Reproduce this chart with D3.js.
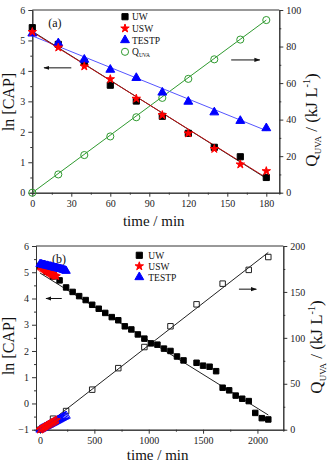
<!DOCTYPE html>
<html>
<head>
<meta charset="utf-8">
<script src="https://cdn.jsdelivr.net/npm/d3@7/dist/d3.min.js"></script>
<style>
  body { margin: 0; background: #fff; }
  .axis path, .axis line { stroke: #333; }
</style>
</head>
<body>
<div id="chart"></div>
<script>
// ---------------- panel (a) data ----------------
var timeA = [0, 20, 40, 60, 80, 100, 120, 140, 160, 180]
var uwA = [5.42, 4.87, 4.28, 3.53, 3.01, 2.51, 1.95, 1.49, 1.18, 0.50]
var uswA = [5.28, 4.77, 4.15, 3.73, 3.09, 2.55, 1.95, 1.44, 0.93, 0.71]
var testpA = [5.23, 4.91, 4.37, 4.04, 3.77, 3.29, 2.99, 2.64, 2.36, 2.12]
var quvaA = [0, 10.0, 20.6, 30.8, 41.3, 51.9, 62.3, 73.0, 83.8, 94.5]
// fitted lines (end points)
var uwFitA = [[0, 5.30], [180, 0.47]]
var uswFitA = [[0, 5.28], [180, 0.49]]
var testpFitA = [[0, 5.15], [180, 2.04]]
var quvaFitA = [[0, 0], [180, 94.5]]

// ---------------- panel (b) data ----------------
var timeUwB = [0, 60, 120, 180, 240, 300, 360, 420, 480, 540, 600, 660, 720, 780, 840, 900,
  960, 1020, 1080, 1140, 1200, 1260, 1320, 1440, 1500, 1560, 1620, 1680, 1740, 1800,
  1860, 1920, 1980, 2040, 2100]
var uwB = [5.24, 5.02, 4.84, 4.69, 4.42, 4.25, 4.09, 3.94, 3.76, 3.61, 3.45, 3.29, 3.17, 2.94,
  2.82, 2.63, 2.47, 2.29, 2.24, 2.09, 2.00, 1.79, 1.64, 1.55, 1.44, 1.40, 1.23, 0.60,
  0.50, 0.30, 0.18, 0.09, -0.36, -0.56, -0.61]
var timeQuvaB = [0, 120, 240, 480, 720, 960, 1200, 1440, 1680, 1920, 2100]
var quvaB = [0, 12.0, 20.3, 43.6, 67.0, 90.0, 112.6, 136.5, 159.0, 174.0, 188.0]
var timeUswB = [0, 10, 20, 30, 40, 50, 60, 70, 80, 90, 100, 110, 120, 130, 140, 150]
var uswB = [5.22, 5.20, 5.16, 5.14, 5.10, 5.08, 5.05, 5.03, 4.99, 4.98, 4.95, 4.92, 4.91, 4.88, 4.87, 4.85]
var quvaUswB = [0, 0.7, 1.5, 2.1, 2.9, 3.6, 4.2, 5.0, 5.7, 6.3, 7.1, 7.8, 8.4, 9.2, 9.9, 10.6]
var timeTestpB = [0, 10, 20, 30, 40, 50, 60, 70, 80, 90, 100, 110, 120, 130, 140, 150, 160,
  170, 180, 190, 200, 210, 220, 230, 240]
var testpB = [5.31, 5.31, 5.29, 5.28, 5.28, 5.26, 5.25, 5.25, 5.23, 5.22, 5.22, 5.20, 5.19,
  5.18, 5.17, 5.17, 5.15, 5.14, 5.13, 5.12, 5.11, 5.10, 5.08, 5.07, 5.05]
var quvaTestpB = [0, 0.6, 1.3, 1.9, 2.5, 3.2, 3.8, 4.4, 5.1, 5.6, 6.3, 7.0, 7.5, 8.2, 8.8,
  9.5, 10.1, 10.7, 11.4, 12.0, 12.6, 13.3, 13.9, 14.5, 15.1]
var uwFitB = [[0, 4.97], [2100, -0.44]]
var quvaFitB = [[0, 0], [2100, 193]]

var legendA = ["UW", "USW", "TESTP", "Q"]
var legendB = ["UW", "USW", "TESTP"]

var red = "#ff0000", blue = "#0000ff", green = "#2f9a2f"
var serif = "'Times New Roman', 'Liberation Serif', serif"

var svg = d3.select("#chart").append("svg")
  .attr("width", 328)
  .attr("height", 464)
  .attr("font-family", serif)

function zip(xs, ys) { return xs.map(function(x, i) { return [x, ys[i]] }) }

function styleAxis(g) {
  g.attr("font-family", serif).attr("font-size", 10)
  g.selectAll("text").attr("fill", "#222")
}

// draws one panel frame with both y axes, returns the scales
function makePanel(p) {
  var x = d3.scaleLinear().domain(p.xdom).range([p.left, p.right])
  var y = d3.scaleLinear().domain(p.ydom).range([p.bottom, p.top])
  var y2 = d3.scaleLinear().domain(p.y2dom).range([p.bottom, p.top])
  var f = d3.format("d")

  // minor ticks
  svg.append("g").attr("class", "axis")
    .attr("transform", "translate(0," + p.bottom + ")")
    .call(d3.axisBottom(x).tickValues(p.xminor).tickSize(2).tickFormat(""))
  svg.append("g").attr("class", "axis")
    .attr("transform", "translate(" + p.left + ",0)")
    .call(d3.axisLeft(y).tickValues(p.yminor).tickSize(2).tickFormat(""))
  svg.append("g").attr("class", "axis")
    .attr("transform", "translate(" + p.right + ",0)")
    .call(d3.axisRight(y2).tickValues(p.y2minor).tickSize(2).tickFormat(""))

  // major ticks
  svg.append("g").attr("class", "axis")
    .attr("transform", "translate(0," + p.bottom + ")")
    .call(d3.axisBottom(x).tickValues(p.xticks).tickFormat(f).tickSize(4).tickSizeOuter(0).tickPadding(3))
    .call(styleAxis)
  svg.append("g").attr("class", "axis")
    .attr("transform", "translate(" + p.left + ",0)")
    .call(d3.axisLeft(y).tickValues(p.yticks).tickFormat(f).tickSize(4).tickSizeOuter(0).tickPadding(3))
    .call(styleAxis)
  svg.append("g").attr("class", "axis")
    .attr("transform", "translate(" + p.right + ",0)")
    .call(d3.axisRight(y2).tickValues(p.y2ticks).tickFormat(f).tickSize(4).tickSizeOuter(0).tickPadding(3))
    .call(styleAxis)

  // top border
  svg.append("line")
    .attr("x1", p.left).attr("x2", p.right)
    .attr("y1", p.top).attr("y2", p.top)
    .style("stroke", "#333")

  // axis titles
  svg.append("text")
    .attr("text-anchor", "middle")
    .attr("x", (p.left + p.right) / 2 - 2)
    .attr("y", p.bottom + p.titleGap)
    .attr("font-size", 15)
    .attr("fill", "#111")
    .text("time / min")
  svg.append("text")
    .attr("text-anchor", "middle")
    .attr("transform", "translate(14," + p.leftMid + ")rotate(-90)")
    .attr("font-size", 16)
    .attr("fill", "#111")
    .text("ln [CAP]")
  var q = svg.append("text")
    .attr("text-anchor", "middle")
    .attr("transform", "translate(" + (p.right + p.rightGap) + "," + p.rightMid + ")rotate(-90)")
    .attr("font-size", 17)
    .attr("fill", "#111")
  q.append("tspan").text("Q")
  q.append("tspan").attr("dy", 4).attr("font-size", 9).text("UVA")
  q.append("tspan").attr("dy", -4).text(" / (kJ L")
  q.append("tspan").attr("dy", -7).attr("font-size", 10).text("-1")
  q.append("tspan").attr("dy", 7).text(")")

  svg.append("text")
    .attr("x", p.left + 16).attr("y", p.top + 17)
    .attr("font-size", 12)
    .attr("fill", "#111")
    .text(p.tag)

  return { x: x, y: y, y2: y2 }
}

var line = d3.line()

function drawLine(pts, sx, sy, color, w) {
  svg.append("path")
    .attr("d", line(pts.map(function(d) { return [sx(d[0]), sy(d[1])] })))
    .style("fill", "none")
    .style("stroke", color)
    .style("stroke-width", w || 1)
}

function drawMarks(pts, sx, sy, type, size, fill, stroke) {
  svg.append("g").selectAll("path")
    .data(pts)
    .enter().append("path")
    .attr("transform", function(d) { return "translate(" + sx(d[0]) + "," + sy(d[1]) + ")" })
    .attr("d", d3.symbol().type(type).size(size))
    .style("fill", fill)
    .style("stroke", stroke)
    .style("stroke-width", 1)
}

function arrow(x1, y1, x2, y2) {
  svg.append("line")
    .attr("x1", x1).attr("y1", y1).attr("x2", x2).attr("y2", y2)
    .style("stroke", "#111").style("stroke-width", 1)
    .attr("marker-end", "url(#head)")
}

svg.append("defs").append("marker")
  .attr("id", "head")
  .attr("viewBox", "0 0 10 10")
  .attr("refX", 9).attr("refY", 5)
  .attr("markerWidth", 6).attr("markerHeight", 6)
  .attr("orient", "auto")
  .append("path").attr("d", "M0,1.5L10,5L0,8.5Z").style("fill", "#111")

// -----------------------------------------------------------------------------
// Panel (a)
var A = makePanel({
  left: 32.3, right: 279.3, top: 10, bottom: 192.7, titleGap: 33,
  leftMid: 102, rightMid: 120, rightGap: 38,
  xdom: [0, 190], ydom: [0, 6], y2dom: [0, 100],
  xticks: [0, 30, 60, 90, 120, 150, 180], xminor: [15, 45, 75, 105, 135, 165],
  yticks: [0, 1, 2, 3, 4, 5, 6], yminor: [0.5, 1.5, 2.5, 3.5, 4.5, 5.5],
  y2ticks: [0, 20, 40, 60, 80, 100], y2minor: [10, 30, 50, 70, 90],
  tag: "(a)"
})

drawLine(quvaFitA, A.x, A.y2, green)
drawLine(testpFitA, A.x, A.y, "#5555ff")
drawLine(uwFitA, A.x, A.y, "#222")
drawLine(uswFitA, A.x, A.y, "#c01010")

drawMarks(zip(timeA, quvaA), A.x, A.y2, d3.symbolCircle, 40, "none", green)
drawMarks(zip(timeA, uwA), A.x, A.y, d3.symbolSquare, 38, "#000", "#000")
drawMarks(zip(timeA, testpA), A.x, A.y, d3.symbolTriangle, 34, blue, blue)
drawMarks(zip(timeA, uswA), A.x, A.y, d3.symbolStar, 22, red, red)

arrow(A.x(30), A.y(4.1), A.x(9), A.y(4.1))
arrow(A.x(153), A.y(4.36), A.x(175), A.y(4.36))

// legend (a)
var legA = [
  { type: d3.symbolSquare, size: 38, fill: "#000", stroke: "#000" },
  { type: d3.symbolStar, size: 22, fill: red, stroke: red },
  { type: d3.symbolTriangle, size: 34, fill: blue, stroke: blue },
  { type: d3.symbolCircle, size: 40, fill: "none", stroke: green }
]
legendA.forEach(function(name, i) {
  var yy = 16.7 + i * 11.7
  svg.append("path")
    .attr("transform", "translate(125," + yy + ")")
    .attr("d", d3.symbol().type(legA[i].type).size(legA[i].size))
    .style("fill", legA[i].fill).style("stroke", legA[i].stroke)
  var t = svg.append("text").attr("x", 132).attr("y", yy + 3.5).attr("font-size", 9.5).attr("fill", "#111")
  t.append("tspan").text(name)
  if (name == "Q") t.append("tspan").attr("dy", 2).attr("font-size", 5.5).text("UVA")
})

// -----------------------------------------------------------------------------
// Panel (b)
var B = makePanel({
  left: 36, right: 283.3, top: 246, bottom: 429.7, titleGap: 30,
  leftMid: 346, rightMid: 347, rightGap: 39,
  xdom: [-37, 2238], ydom: [-1, 6], y2dom: [0, 200],
  xticks: [0, 500, 1000, 1500, 2000], xminor: [250, 750, 1250, 1750],
  yticks: [-1, 0, 1, 2, 3, 4, 5, 6], yminor: [-0.5, 0.5, 1.5, 2.5, 3.5, 4.5, 5.5],
  y2ticks: [0, 50, 100, 150, 200], y2minor: [25, 75, 125, 175],
  tag: "(b)"
})

drawLine(quvaFitB, B.x, B.y2, "#222")
drawLine(uwFitB, B.x, B.y, "#222")

drawMarks(zip(timeQuvaB, quvaB), B.x, B.y2, d3.symbolSquare, 30, "none", "#222")
drawMarks(zip(timeTestpB, quvaTestpB), B.x, B.y2, d3.symbolTriangle, 30, "none", blue)
drawMarks(zip(timeUswB, quvaUswB), B.x, B.y2, d3.symbolStar, 20, "none", red)
drawMarks(zip(timeUwB, uwB), B.x, B.y, d3.symbolSquare, 30, "#000", "#000")
drawMarks(zip(timeUswB, uswB), B.x, B.y, d3.symbolStar, 20, red, red)
drawMarks(zip(timeTestpB, testpB), B.x, B.y, d3.symbolTriangle, 30, blue, blue)

arrow(B.x(200), B.y(4.0), B.x(55), B.y(4.0))
arrow(B.x(1830), B.y2(153), B.x(1990), B.y2(153))

// legend (b)
legendB.forEach(function(name, i) {
  var yy = 255.3 + i * 10.9
  svg.append("path")
    .attr("transform", "translate(139.3," + yy + ")")
    .attr("d", d3.symbol().type(legA[i].type).size(legA[i].size))
    .style("fill", legA[i].fill).style("stroke", legA[i].stroke)
  svg.append("text").attr("x", 148.3).attr("y", yy + 3.5).attr("font-size", 9.5).attr("fill", "#111").text(name)
})
</script>
</body>
</html>
